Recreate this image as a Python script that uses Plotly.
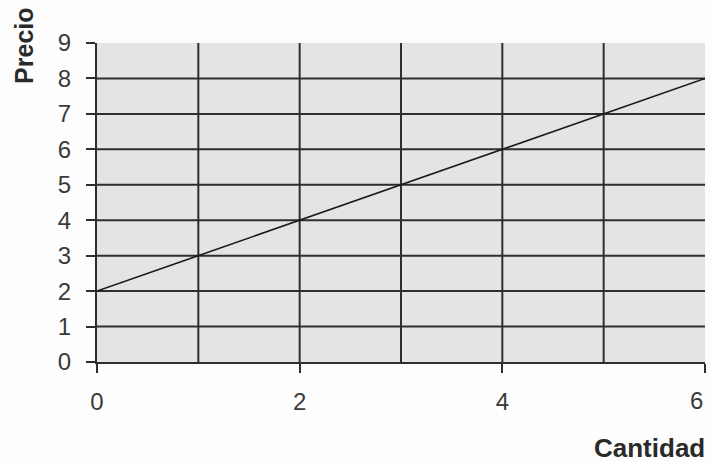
import plotly.graph_objects as go

cantidad = [0, 1, 2, 3, 4, 5, 6]
precio = [2, 3, 4, 5, 6, 7, 8]
x_ticks = [0, 2, 4, 6]
x_ticktext = ["0", "2", "4", ""]
x_last_label = "6"
x_grid = [1, 2, 3, 4, 5]
y_ticks = [0, 1, 2, 3, 4, 5, 6, 7, 8, 9]
y_grid = [1, 2, 3, 4, 5, 6, 7, 8]

grid = "#2e2e2e"
fam = "Liberation Sans, Arial, sans-serif"
tickfont = dict(family=fam, size=24, color="#3a3a3a")

fig = go.Figure()
fig.add_trace(go.Scatter(x=cantidad, y=precio, mode="lines",
                         line=dict(color="#1a1a1a", width=1.6), showlegend=False))

shapes = []
for gx in x_grid:
    shapes.append(dict(type="line", xref="x", yref="y", x0=gx, x1=gx, y0=0, y1=9,
                       line=dict(color=grid, width=2), layer="below"))
for gy in y_grid:
    shapes.append(dict(type="line", xref="x", yref="y", x0=0, x1=6, y0=gy, y1=gy,
                       line=dict(color=grid, width=2), layer="below"))

fig.update_layout(
    width=711, height=462,
    margin=dict(l=97, r=6, t=43, b=100),
    paper_bgcolor="#fdfdfd",
    plot_bgcolor="#e4e4e4",
    shapes=shapes,
    xaxis=dict(range=[0, 6], tickvals=x_ticks, ticktext=x_ticktext, showgrid=False,
               zeroline=False, showline=True, linecolor=grid, linewidth=2,
               ticks="outside", ticklen=9, tickwidth=2, tickcolor=grid,
               tickfont=tickfont, ticklabelstandoff=8, automargin=False),
    yaxis=dict(range=[0, 9], tickvals=y_ticks, showgrid=False,
               zeroline=False, showline=True, linecolor=grid, linewidth=2,
               ticks="outside", ticklen=9, tickwidth=2, tickcolor=grid,
               tickfont=tickfont, ticklabelstandoff=10, automargin=False),
    annotations=[
        dict(text=x_last_label, xref="x", yref="paper", x=x_ticks[-1], y=-0.122,
             xanchor="right", yanchor="middle", showarrow=False, font=tickfont),
        dict(text="<b>Precio</b>", xref="paper", yref="paper", x=-0.120, y=0.991,
             xanchor="center", yanchor="middle", textangle=-90, showarrow=False,
             font=dict(family=fam, size=25, color="#2a2a2a")),
        dict(text="<b>Cantidad</b>", xref="paper", yref="paper", x=1.003, y=-0.27,
             xanchor="right", yanchor="middle", showarrow=False,
             font=dict(family=fam, size=26, color="#2a2a2a")),
    ],
)

fig.write_html("out.html")
